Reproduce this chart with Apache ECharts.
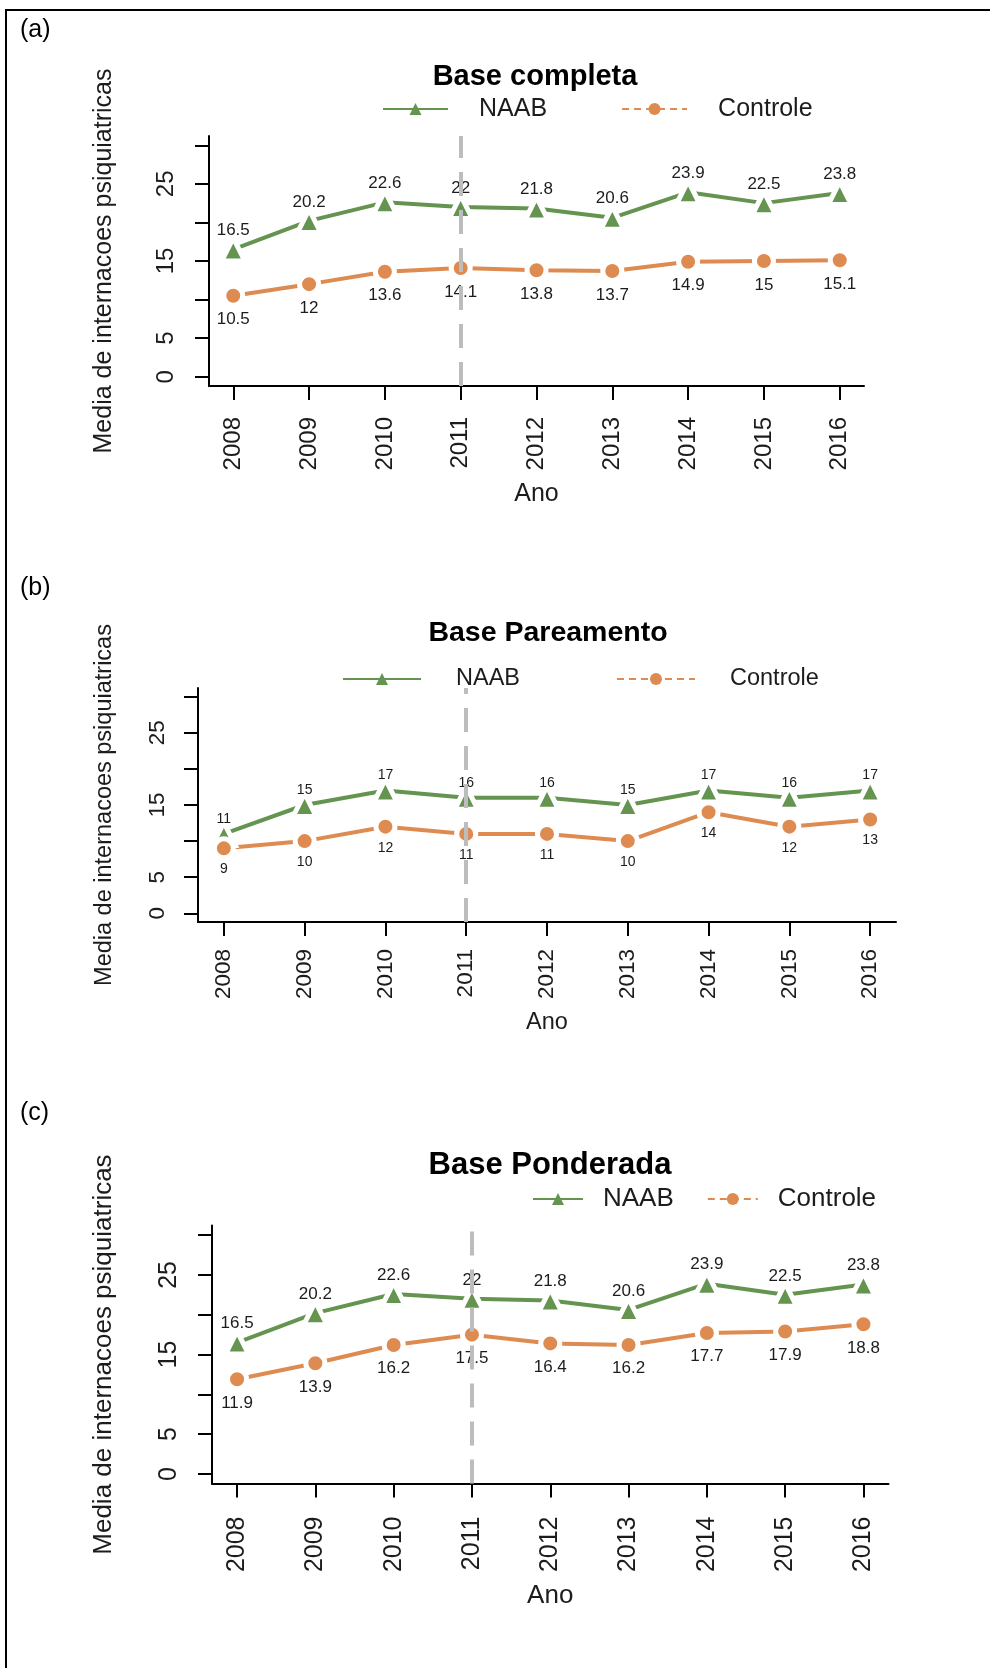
<!DOCTYPE html>
<html>
<head>
<meta charset="utf-8">
<script src="https://cdn.jsdelivr.net/npm/echarts@6/dist/echarts.min.js"></script>
<style>
  html, body { margin: 0; padding: 0; background: #fff; }
  #wrap { position: relative; width: 990px; height: 1668px; }
  #frame { position: absolute; left: 5px; top: 9px; right: 0; bottom: 0;
           border-top: 2px solid #000; border-left: 2px solid #000; }
  #chart { position: absolute; left: 0; top: 0; width: 990px; height: 1668px; }
</style>
</head>
<body>
<div id="wrap">
  <div id="frame"></div>
  <div id="chart"></div>
</div>
<script>
// Years on the x axis and the year of the intervention (dashed marker)
const years = [2008, 2009, 2010, 2011, 2012, 2013, 2014, 2015, 2016];
const interventionYear = 2011;

// (a) Base completa
const naabCompleta     = [16.5, 20.2, 22.6, 22, 21.8, 20.6, 23.9, 22.5, 23.8];
const controleCompleta = [10.5, 12, 13.6, 14.1, 13.8, 13.7, 14.9, 15, 15.1];

// (b) Base Pareamento
const naabPareamento     = [11, 15, 17, 16, 16, 15, 17, 16, 17];
const controlePareamento = [9, 10, 12, 11, 11, 10, 14, 12, 13];

// (c) Base Ponderada
const naabPonderada     = [16.5, 20.2, 22.6, 22, 21.8, 20.6, 23.9, 22.5, 23.8];
const controlePonderada = [11.9, 13.9, 16.2, 17.5, 16.4, 16.2, 17.7, 17.9, 18.8];

// y axis ticks and the subset that carries labels
const yTicks = [0, 5, 10, 15, 20, 25, 30];
const yTickLabels = [0, 5, 15, 25];

const seriesNames = ['NAAB', 'Controle'];
const panelTitles = ['Base completa', 'Base Pareamento', 'Base Ponderada'];
const panelTags = ['(a)', '(b)', '(c)'];
const xAxisName = 'Ano';
const yAxisName = 'Media de internacoes psiquiatricas';

const FONT = '"Liberation Sans", Arial, Helvetica, sans-serif';
const GREEN = '#659450';
const ORANGE = '#dd8b51';
const TEXT = '#1c1c1c';

// plotting range padded by 4% on each side, as in base graphics
const xPad = (years[years.length - 1] - years[0]) * 0.04;
const yPad = (yTicks[yTicks.length - 1] - yTicks[0]) * 0.04;

// layout of the three stacked panels
const panels = [
  { naab: naabCompleta, controle: controleCompleta,
    grid: { left: 209, right: 126, top: 136, height: 250 },
    tagTop: 17, titleX: 535, titleCY: 77, titleFs: 29,
    legend: { left: 382, cy: 109, itemWidth: 65, textGap: 26, itemGap: 74, fs: 25 },
    axisFs: 24, nameFs: 25, yNameGap: 92, xNameGap: 96, yLabelMargin: 31, xLabelMargin: 31,
    labelFs: 17, above: 19, below: 24 },
  { naab: naabPareamento, controle: controlePareamento,
    grid: { left: 198, right: 94, top: 688, height: 234 },
    tagTop: 575, titleX: 548, titleCY: 633, titleFs: 28.5,
    legend: { left: 342, cy: 679, itemWidth: 78, textGap: 30, itemGap: 96, fs: 23.5 },
    axisFs: 22.5, nameFs: 23.5, yNameGap: 82, xNameGap: 89, yLabelMargin: 29, xLabelMargin: 27,
    labelFs: 14, above: 15, below: 21 },
  { naab: naabPonderada, controle: controlePonderada,
    grid: { left: 212, right: 101.5, top: 1225.6, height: 257.9 },
    tagTop: 1100, titleX: 550, titleCY: 1165, titleFs: 31,
    legend: { left: 532, cy: 1199, itemWidth: 50, textGap: 15, itemGap: 33, fs: 26 },
    axisFs: 25, nameFs: 26, yNameGap: 95, xNameGap: 99, yLabelMargin: 30, xLabelMargin: 33,
    labelFs: 17, above: 19, below: 23.6 }
];

const titles = [], legends = [], grids = [], xAxes = [], yAxes = [], series = [];

panels.forEach((p, i) => {
  titles.push({
    text: panelTags[i], left: 20, top: p.tagTop, padding: 0,
    textStyle: { fontFamily: FONT, fontSize: 25, fontWeight: 'normal', color: '#000', lineHeight: 26 }
  });
  titles.push({
    text: panelTitles[i], left: p.titleX, textAlign: 'center', top: p.titleCY - (p.titleFs + 2) / 2, padding: 0,
    textStyle: { fontFamily: FONT, fontSize: p.titleFs, fontWeight: 'bold', color: '#000', lineHeight: p.titleFs + 2 }
  });

  const lh = Math.round(p.legend.fs + 1);
  legends.push({
    left: p.legend.left, top: p.legend.cy - lh / 2, padding: 0, orient: 'horizontal',
    itemWidth: p.legend.itemWidth, itemHeight: 15, itemGap: p.legend.itemGap,
    selectedMode: false,
    textStyle: { fontFamily: FONT, fontSize: p.legend.fs, color: TEXT, lineHeight: lh,
                 padding: [0, 0, 0, p.legend.textGap] },
    itemStyle: { borderWidth: 0 },
    lineStyle: { width: 2 },
    data: [
      { name: seriesNames[0] },
      { name: seriesNames[1], lineStyle: { type: [7, 5], width: 2 } }
    ]
  });

  grids.push(Object.assign({ containLabel: false }, p.grid));

  xAxes.push({
    gridIndex: i, type: 'value',
    min: years[0] - xPad, max: years[years.length - 1] + xPad,
    name: xAxisName, nameLocation: 'middle', nameGap: p.xNameGap,
    nameTextStyle: { fontFamily: FONT, fontSize: p.nameFs, color: TEXT, lineHeight: p.nameFs },
    axisLine: { show: true, onZero: false, lineStyle: { color: '#000', width: 2 } },
    axisTick: { show: true, customValues: years, length: 14, lineStyle: { color: '#000', width: 2 } },
    axisLabel: { show: true, customValues: years, rotate: 90, margin: p.xLabelMargin,
                 fontFamily: FONT, fontSize: p.axisFs, color: TEXT, lineHeight: p.axisFs,
                 formatter: v => String(v) },
    splitLine: { show: false }
  });

  yAxes.push({
    gridIndex: i, type: 'value',
    min: yTicks[0] - yPad, max: yTicks[yTicks.length - 1] + yPad,
    name: yAxisName, nameLocation: 'middle', nameRotate: 90, nameGap: p.yNameGap,
    nameTextStyle: { fontFamily: FONT, fontSize: p.nameFs, color: TEXT, lineHeight: p.nameFs },
    axisLine: { show: true, onZero: false, lineStyle: { color: '#000', width: 2 } },
    axisTick: { show: true, customValues: yTicks, length: 14, lineStyle: { color: '#000', width: 2 } },
    axisLabel: { show: true, customValues: yTickLabels, rotate: 90, margin: p.yLabelMargin,
                 fontFamily: FONT, fontSize: p.axisFs, color: TEXT, lineHeight: p.axisFs,
                 formatter: v => String(v) },
    splitLine: { show: false }
  });

  const pairs = arr => years.map((y, k) => [y, arr[k]]);
  const labelOf = prm => String(prm.value[1]);

  series.push({
    name: seriesNames[0], type: 'line', xAxisIndex: i, yAxisIndex: i,
    data: pairs(p.naab),
    symbol: 'triangle', symbolSize: 23,
    lineStyle: { color: GREEN, width: 4 },
    itemStyle: { color: GREEN, borderColor: '#fff', borderWidth: 5 },
    label: { show: true, position: 'inside', offset: [0, -p.above], formatter: labelOf,
             fontFamily: FONT, fontSize: p.labelFs, color: TEXT },
    markLine: {
      silent: true, symbol: ['none', 'none'], label: { show: false },
      lineStyle: { color: '#bdbdbd', width: 4, type: [24, 14] },
      emphasis: { disabled: true },
      data: [{ xAxis: interventionYear }]
    }
  });
  series.push({
    name: seriesNames[1], type: 'line', xAxisIndex: i, yAxisIndex: i,
    data: pairs(p.controle),
    symbol: 'circle', symbolSize: 19,
    lineStyle: { color: ORANGE, width: 4 },
    itemStyle: { color: ORANGE, borderColor: '#fff', borderWidth: 5 },
    label: { show: true, position: 'inside', offset: [0, p.below], formatter: labelOf,
             fontFamily: FONT, fontSize: p.labelFs, color: TEXT }
  });
});

const chart = echarts.init(document.getElementById('chart'), null, { renderer: 'canvas' });
chart.setOption({
  animation: false,
  backgroundColor: 'transparent',
  title: titles,
  legend: legends,
  grid: grids,
  xAxis: xAxes,
  yAxis: yAxes,
  series: series
});
</script>
</body>
</html>
